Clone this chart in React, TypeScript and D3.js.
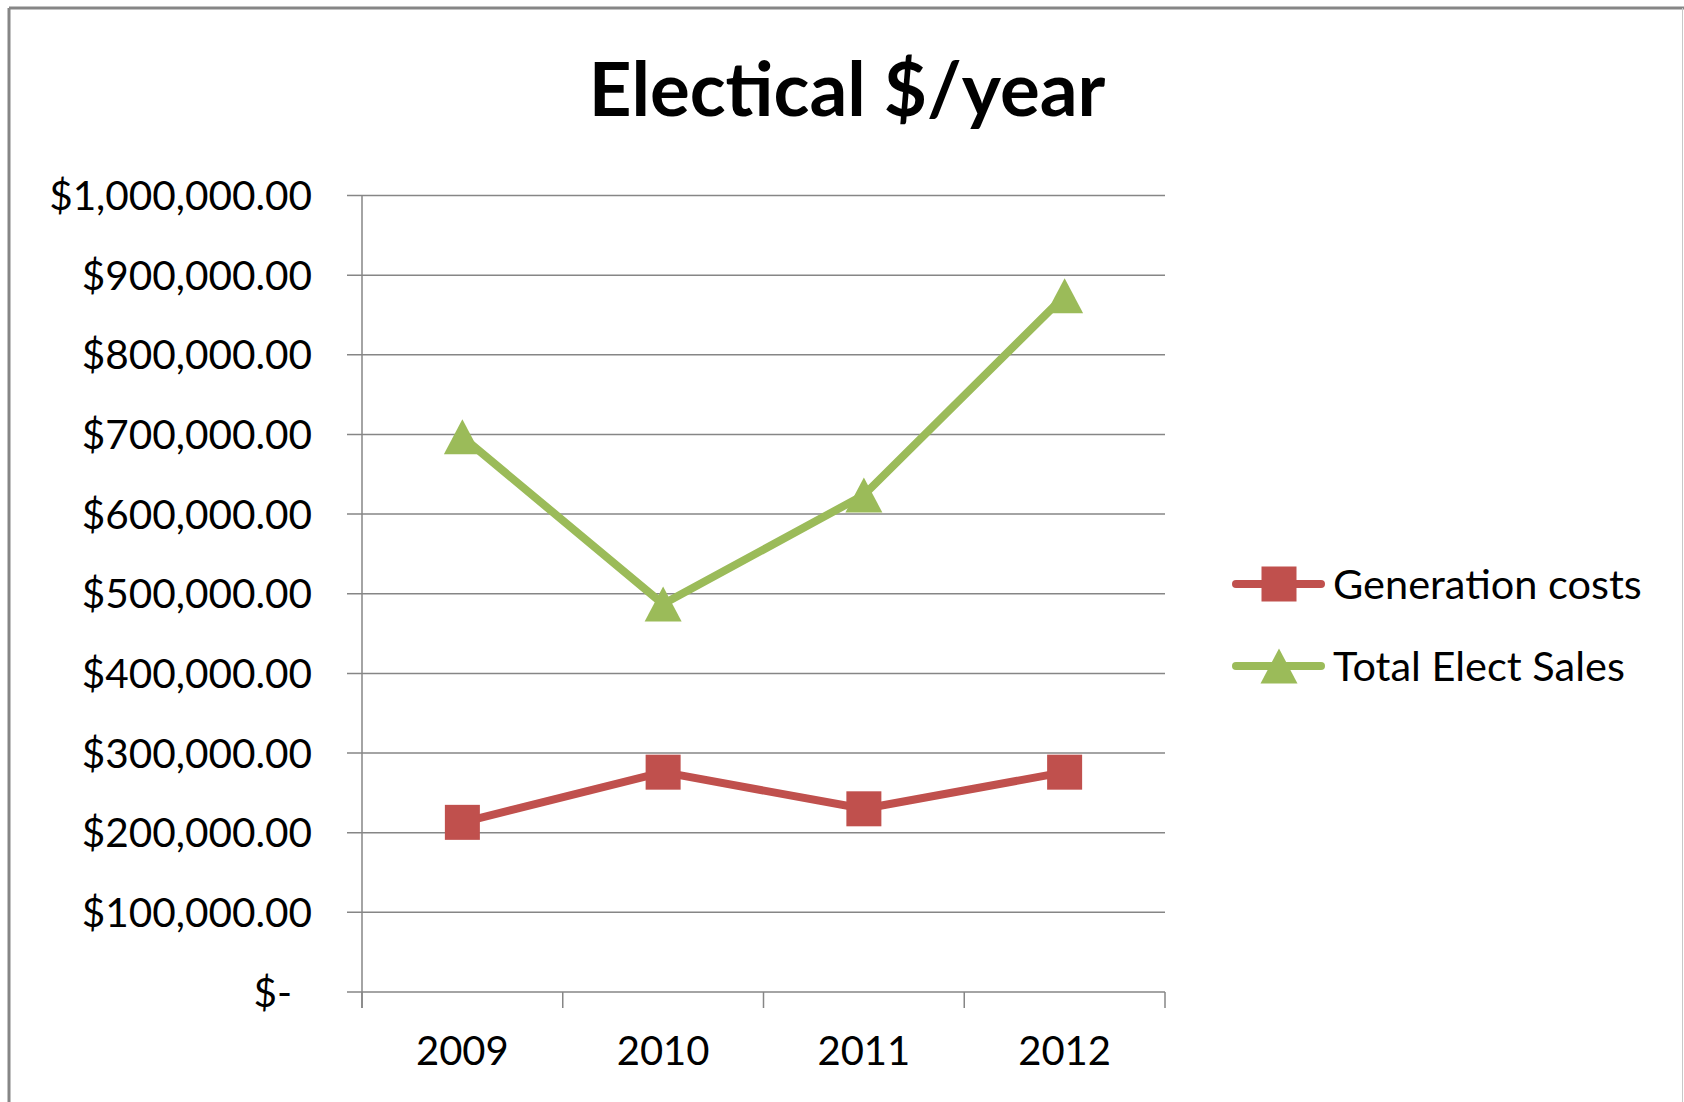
import React from "react";
import * as d3 from "d3";

const years = ["2009", "2010", "2011", "2012"];
const generationCosts = [213000, 276000, 230000, 276000];
const totalElectSales = [697000, 487000, 624000, 874000];
const yTicks = [0, 100000, 200000, 300000, 400000, 500000, 600000, 700000, 800000, 900000, 1000000];
const seriesNames = ["Generation costs", "Total Elect Sales"];
const seriesColors = ["#C0504D", "#9BBB59"];
const chartTitle = "Electical $/year";

const W = 1684;
const H = 1102;
const plotLeft = 362;
const plotRight = 1165;
const plotTop = 195.5;
const plotBottom = 992;
const FONT = "Lato, 'Open Sans', sans-serif";

const fmtMoney = (v: number) => (v === 0 ? "$-" : "$" + d3.format(",.2f")(v));

function Marker({ kind, cx, cy, color }: { kind: string; cx: number; cy: number; color: string }) {
  if (kind === "square") {
    const s = 35;
    return <rect x={cx - s / 2} y={cy - s / 2} width={s} height={s} fill={color} />;
  }
  const w = 37;
  const h = 35;
  const pts = [
    [cx, cy - h / 2],
    [cx + w / 2, cy + h / 2],
    [cx - w / 2, cy + h / 2],
  ];
  return <polygon points={pts.map((p) => p.join(",")).join(" ")} fill={color} />;
}

export default function App() {
  const x = d3.scaleBand<string>().domain(years).range([plotLeft, plotRight]);
  const y = d3.scaleLinear().domain([0, 1000000]).range([plotBottom, plotTop]);
  const cx = (c: string) => (x(c) as number) + x.bandwidth() / 2;
  const line = d3
    .line<number>()
    .x((_, i) => cx(years[i]))
    .y((d) => y(d));

  const series = [
    { name: seriesNames[0], values: generationCosts, color: seriesColors[0], marker: "square" },
    { name: seriesNames[1], values: totalElectSales, color: seriesColors[1], marker: "triangle" },
  ];

  const catTicks = [...years.map((c) => x(c) as number), plotRight];

  return (
    <svg
      width={W}
      height={H}
      style={{ position: "absolute", left: 0, top: 0, background: "#fff" }}
      fontFamily={FONT}
    >
      <rect x={0} y={0} width={W} height={H} fill="#fff" />
      {/* chart frame */}
      <line x1={9} y1={8} x2={9} y2={H} stroke="#868686" strokeWidth={3} />
      <line x1={9} y1={8} x2={W} y2={8} stroke="#868686" strokeWidth={3} />
      <line x1={1682.5} y1={8} x2={1682.5} y2={H} stroke="#c8c8c8" strokeWidth={1} />

      {/* title */}
      <text x={847} y={116} textAnchor="middle" fontSize={74.5} fontWeight={700} fill="#000">
        {chartTitle}
      </text>

      {/* gridlines + y ticks */}
      {yTicks.map((t) => (
        <g key={t}>
          <line x1={plotLeft - 15} x2={plotRight} y1={y(t)} y2={y(t)} stroke="#868686" strokeWidth={1.5} />
          <text
            x={t === 0 ? 292 : 312}
            y={y(t)}
            dy="0.36em"
            textAnchor="end"
            fontSize={40.5}
            fill="#000"
          >
            {fmtMoney(t)}
          </text>
        </g>
      ))}

      {/* value axis line */}
      <line x1={plotLeft} x2={plotLeft} y1={plotTop} y2={plotBottom + 16} stroke="#868686" strokeWidth={1.5} />
      {/* category ticks */}
      {catTicks.map((tx, i) => (
        <line key={i} x1={tx} x2={tx} y1={plotBottom} y2={plotBottom + 16} stroke="#868686" strokeWidth={1.5} />
      ))}
      {years.map((c) => (
        <text key={c} x={cx(c)} y={1065} textAnchor="middle" fontSize={40} fill="#000">
          {c}
        </text>
      ))}

      {/* series */}
      {series.map((s) => (
        <g key={s.name}>
          <path d={line(s.values) as string} fill="none" stroke={s.color} strokeWidth={8} strokeLinejoin="round" />
          {s.values.map((v, i) => (
            <Marker key={i} kind={s.marker} cx={cx(years[i])} cy={y(v)} color={s.color} />
          ))}
        </g>
      ))}

      {/* legend */}
      {series.map((s, i) => {
        const ly = 584 + i * 82;
        return (
          <g key={s.name}>
            <line x1={1236} x2={1321} y1={ly} y2={ly} stroke={s.color} strokeWidth={8} strokeLinecap="round" />
            <Marker kind={s.marker} cx={1279} cy={ly} color={s.color} />
            <text x={1333} y={ly} dy="0.36em" fontSize={41.5} fill="#000">
              {s.name}
            </text>
          </g>
        );
      })}
    </svg>
  );
}
